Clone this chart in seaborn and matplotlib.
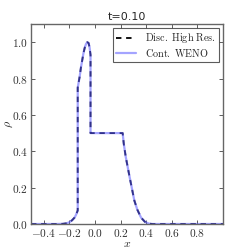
import matplotlib
matplotlib.use("Agg")
import matplotlib.pyplot as plt
import seaborn as sns
import pandas as pd
import numpy as np

# Density profile at t=0.10
x_vals = [-0.50, -0.40, -0.30, -0.25, -0.22, -0.20, -0.18, -0.16, -0.15, -0.14, -0.135,
          -0.135, -0.12, -0.11, -0.10, -0.09, -0.08, -0.07, -0.06, -0.05, -0.042,
          -0.035, -0.035, 0.00, 0.10, 0.20, 0.216, 0.225, 0.24, 0.255, 0.27, 0.29,
          0.307, 0.33, 0.36, 0.39, 0.42, 0.45, 0.60, 0.80, 1.00]
rho_vals = [0.0, 0.0, 0.0, 0.001, 0.004, 0.010, 0.020, 0.035, 0.048, 0.065, 0.075,
            0.75, 0.81, 0.86, 0.90, 0.94, 0.97, 0.99, 1.00, 0.995, 0.97,
            0.93, 0.50, 0.50, 0.50, 0.50, 0.50, 0.44, 0.37, 0.315, 0.26, 0.19,
            0.13, 0.08, 0.035, 0.012, 0.002, 0.0, 0.0, 0.0, 0.0]

series_names = ["Disc. High Res.", "Cont. WENO"]
title_text = "t=0.10"
x_ticks = [-0.4, -0.2, 0.0, 0.2, 0.4, 0.6, 0.8]
y_ticks = [0.0, 0.2, 0.4, 0.6, 0.8, 1.0]

sns.set_style("white")
plt.rcParams['mathtext.fontset'] = 'cm'
plt.rcParams['font.family'] = ['DejaVu Sans']

df = pd.DataFrame({"x": x_vals, "rho": rho_vals})

fig = plt.figure(figsize=(2.49, 2.49), dpi=100)
ax = fig.add_axes([31/249, 1 - 224/249, 192/249, 200/249])

sns.lineplot(data=df, x="x", y="rho", sort=False, estimator=None, ax=ax,
             color="black", linestyle=(0, (3.0, 2.6)), linewidth=1.3,
             label=r"$\mathrm{" + series_names[0].replace(" ", r"\ ") + "}$")
sns.lineplot(data=df, x="x", y="rho", sort=False, estimator=None, ax=ax,
             color=(0.35, 0.35, 1.0), alpha=0.55, linewidth=1.6,
             label=r"$\mathrm{" + series_names[1].replace(" ", r"\ ") + "}$")

ax.set_xlim(-0.5, 1.0)
ax.set_ylim(0.0, 1.1)
ax.set_xticks(x_ticks)
ax.set_yticks(y_ticks)
ax.set_xticklabels([r"$%.1f$" % v for v in x_ticks], fontsize=8.2)
ax.set_yticklabels([r"$%.1f$" % v for v in y_ticks], fontsize=8.2)
ax.tick_params(direction="in", length=3, width=0.6, top=True, right=True,
               bottom=True, left=True, colors="#444444", labelcolor="#333333", pad=2)
for s in ax.spines.values():
    s.set_color("#666666")
    s.set_linewidth(1.0)
ax.set_xlabel(r"$x$", fontsize=8.5, labelpad=-1)
ax.set_ylabel(r"$\rho$", fontsize=8.5)
ax.yaxis.set_label_coords(-0.085, 0.5)
ax.set_title(title_text, fontsize=8, pad=3)

leg = ax.legend(loc="upper right", fontsize=7.3, frameon=True, fancybox=False,
                borderpad=0.3, handlelength=2.0, labelspacing=0.15,
                borderaxespad=0.4, handletextpad=0.9)
leg.get_frame().set_edgecolor("#333333")
leg.get_frame().set_linewidth(0.8)

fig.savefig("out.png", dpi=100)
